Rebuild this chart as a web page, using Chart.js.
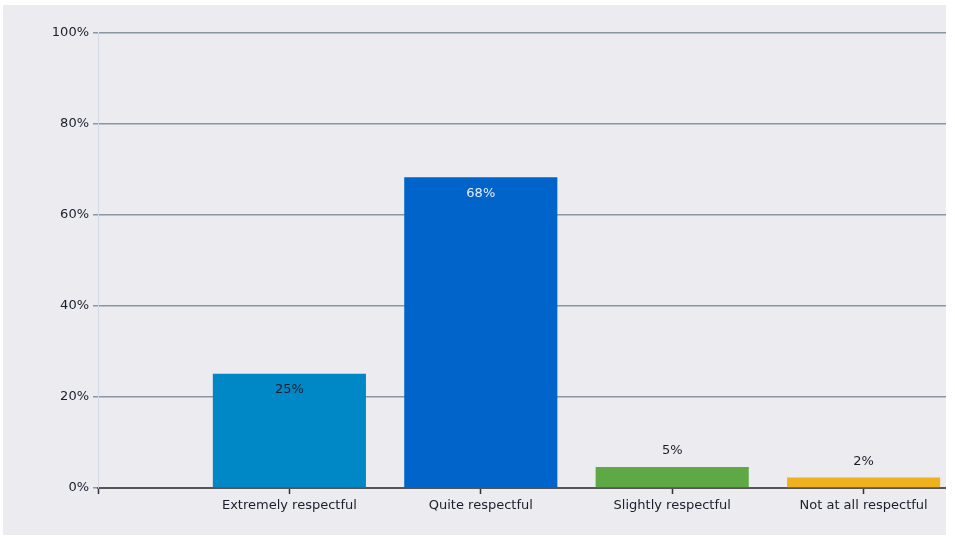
<!DOCTYPE html>
<html>
<head>
<meta charset="utf-8">
<script src="https://cdn.jsdelivr.net/npm/chart.js@4/dist/chart.umd.min.js"></script>
<style>
  html, body { margin: 0; padding: 0; background: #fff; }
  #frame {
    position: absolute; left: 3px; top: 5px;
    width: 943px; height: 530px;
    overflow: hidden; background: #ebebf0;
  }
  #inner { position: absolute; left: 0; top: 0; width: 1058px; height: 530px; }
</style>
</head>
<body>
<div id="frame"><div id="inner"><canvas id="myChart"></canvas></div></div>
<script>
// categories and values
const categories = ['Extremely respectful', 'Quite respectful', 'Slightly respectful', 'Not at all respectful'];
const shares = [25.1, 68.3, 4.6, 2.3];
const barColors = ['#0087c6', '#0064ca', '#5ea846', '#f0b11e'];
const yTicks = [0, 20, 40, 60, 80, 100];

const FONT = { family: '"DejaVu Sans", Verdana, sans-serif', size: 13 };

// empty slot before and after, like the original axis
const labels = [''].concat(categories, ['']);
const values = [null].concat(shares, [null]);
const colors = ['#000'].concat(barColors, ['#000']);

const valueLabels = {
  id: 'valueLabels',
  afterDatasetsDraw(chart) {
    const ctx = chart.ctx;
    const meta = chart.getDatasetMeta(0);
    ctx.save();
    ctx.font = FONT.size + 'px ' + FONT.family;
    ctx.textAlign = 'center';
    ctx.textBaseline = 'middle';
    meta.data.forEach((bar, i) => {
      const v = values[i];
      if (v == null) return;
      const txt = Math.round(v) + '%';
      const h = bar.base - bar.y;
      if (h > 40) {
        ctx.fillStyle = v > 50 ? '#e8eef8' : '#1a1f2b';
        ctx.fillText(txt, bar.x, bar.y + 16);
      } else {
        ctx.fillStyle = '#1a1f2b';
        ctx.fillText(txt, bar.x, bar.y - 16);
      }
    });
    ctx.restore();
  }
};

const ctx = document.querySelector('#myChart').getContext('2d');
new Chart(ctx, {
  type: 'bar',
  data: {
    labels: labels,
    datasets: [{
      data: values,
      backgroundColor: colors,
      borderWidth: 0,
      barPercentage: 1,
      categoryPercentage: 0.8,
    }],
  },
  options: {
    responsive: true,
    maintainAspectRatio: false,
    animation: false,
    layout: { padding: { top: 28, right: 6, left: 0, bottom: 0 } },
    plugins: { legend: { display: false }, tooltip: { enabled: false } },
    scales: {
      x: {
        offset: false,
        afterFit(scale) { scale.height = 47; },
        grid: {
          offset: false,
          drawOnChartArea: false,
          drawTicks: true,
          tickLength: 6,
          tickColor: '#333',
          tickWidth: 1.5,
        },
        border: { color: '#555', width: 2 },
        ticks: { color: '#1a1f2b', font: FONT, padding: 4, autoSkip: false, maxRotation: 0 },
      },
      y: {
        min: 0,
        max: 100,
        afterFit(scale) { scale.width = 95; },
        afterBuildTicks(scale) { scale.ticks = yTicks.map(v => ({ value: v })); },
        grid: {
          color: ctx => ctx.tick && ctx.tick.value === 0 ? 'rgba(0,0,0,0)' : '#8996a4',
          lineWidth: 1.5,
          tickColor: '#8996a4',
          tickLength: 5,
        },
        border: { color: '#d3dae6', width: 1 },
        ticks: {
          color: '#1a1f2b',
          font: FONT,
          padding: 4,
          callback: v => v + '%',
        },
      },
    },
  },
  plugins: [valueLabels],
});
</script>
</body>
</html>
